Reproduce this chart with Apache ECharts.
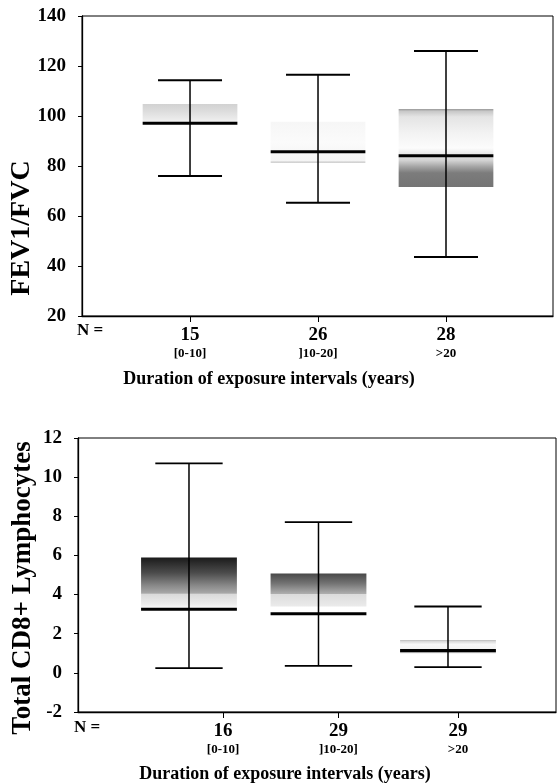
<!DOCTYPE html>
<html>
<head>
<meta charset="utf-8">
<script src="https://cdn.jsdelivr.net/npm/echarts@6/dist/echarts.min.js"></script>
<style>
  html, body { margin: 0; padding: 0; background: #fff; }
  #chart { width: 557px; height: 784px; }
</style>
</head>
<body>
<div id="chart"></div>
<script>
// categories (exposure duration intervals)
const categories = ['[0-10]', ']10-20]', '>20'];

// FEV1/FVC box plot
const fevN = [15, 26, 28];
const fevMin = [76, 65.3, 43.6];
const fevQ1 = [97, 81.3, 71.6];
const fevMed = [97.1, 85.7, 84.1];
const fevQ3 = [104.8, 97.7, 102.8];
const fevMax = [114.3, 116.5, 126];

// Total CD8+ lymphocytes box plot
const cd8N = [16, 29, 29];
const cd8Min = [0.24, 0.36, 0.29];
const cd8Q1 = [3.25, 3.02, 1.0];
const cd8Med = [3.25, 3.02, 1.14];
const cd8Q3 = [5.9, 5.08, 1.65];
const cd8Max = [10.7, 7.7, 3.39];

const fevTicks = [20, 40, 60, 80, 100, 120, 140];
const cd8Ticks = [-2, 0, 2, 4, 6, 8, 10, 12];

const FONT = "'Liberation Serif', 'DejaVu Serif', serif";

// grey shading of each box, top -> bottom
const fevFills = [
  [[0, '#d2d2d2'], [0.35, '#dcdcdc'], [0.8, '#ececec'], [1, '#f6f6f6']],
  [[0, '#f6f6f6'], [0.5, '#fbfbfb'], [0.95, '#f4f4f4'], [1, '#bdbdbd']],
  [[0, '#999999'], [0.03, '#c8c8c8'], [0.1, '#e4e4e4'], [0.3, '#f2f2f2'], [0.5, '#fcfcfc'],
   [0.66, '#d2d2d2'], [0.74, '#a4a4a4'], [0.82, '#7c7c7c'], [1, '#747474']]
];
const cd8Fills = [
  [[0, '#1a1a1a'], [0.3, '#4c4c4c'], [0.55, '#8a8a8a'], [0.69, '#a8a8a8'], [0.71, '#dadada'],
   [0.9, '#ececec'], [1, '#ffffff']],
  [[0, '#484848'], [0.25, '#747474'], [0.5, '#adadad'], [0.52, '#dcdcdc'], [0.8, '#eaeaea'],
   [0.84, '#ffffff'], [1, '#ffffff']],
  [[0, '#8a8a8a'], [0.06, '#d8d8d8'], [0.3, '#f8f8f8'], [0.7, '#f2f2f2'], [1, '#d4d4d4']]
];

function rows(mins, q1s, meds, q3s, maxs) {
  return mins.map((m, i) => [i + 1, m, q1s[i], meds[i], q3s[i], maxs[i]]);
}

function boxRenderer(fills, boxHalf, capHalf) {
  return function (params, api) {
    const x = api.value(0);
    const pMin = api.coord([x, api.value(1)]);
    const pQ1 = api.coord([x, api.value(2)]);
    const pMed = api.coord([x, api.value(3)]);
    const pQ3 = api.coord([x, api.value(4)]);
    const pMax = api.coord([x, api.value(5)]);
    const bw = api.size([boxHalf, 0])[0];
    const cw = api.size([capHalf, 0])[0];
    const cx = pMed[0];
    const stops = fills[params.dataIndex].map(s => ({ offset: s[0], color: s[1] }));
    return {
      type: 'group',
      children: [
        {
          type: 'rect',
          shape: { x: cx - bw, y: pQ3[1], width: bw * 2, height: pQ1[1] - pQ3[1] },
          style: { fill: { type: 'linear', x: 0, y: 0, x2: 0, y2: 1, colorStops: stops } }
        },
        {
          type: 'line',
          shape: { x1: cx, y1: pMax[1], x2: cx, y2: pMin[1] },
          style: { stroke: '#000', lineWidth: 1.5 }
        },
        {
          type: 'line',
          shape: { x1: cx - cw, y1: pMax[1], x2: cx + cw, y2: pMax[1] },
          style: { stroke: '#000', lineWidth: 1.8 }
        },
        {
          type: 'line',
          shape: { x1: cx - cw, y1: pMin[1], x2: cx + cw, y2: pMin[1] },
          style: { stroke: '#000', lineWidth: 1.8 }
        },
        {
          type: 'line',
          shape: { x1: cx - bw, y1: pMed[1], x2: cx + bw, y2: pMed[1] },
          style: { stroke: '#000', lineWidth: 3.2 }
        }
      ]
    };
  };
}

function yAxis(gridIndex, min, max, interval) {
  return {
    gridIndex: gridIndex, type: 'value', min: min, max: max, interval: interval,
    splitLine: { show: false },
    axisLine: { show: true, lineStyle: { color: '#000', width: 1.3 } },
    axisTick: { show: true, length: 4, lineStyle: { color: '#000' } },
    axisLabel: { color: '#000', fontFamily: FONT, fontWeight: 'bold', fontSize: 19, margin: 16 }
  };
}

function xAxis(gridIndex, min, max, tickVals, nums) {
  return {
    gridIndex: gridIndex, type: 'value', min: min, max: max,
    splitLine: { show: false },
    axisLine: { show: true, onZero: false, lineStyle: { color: '#000', width: 1.3 } },
    axisTick: { show: true, length: 6, customValues: tickVals, lineStyle: { color: '#000' } },
    axisLabel: {
      customValues: tickVals,
      margin: 10,
      formatter: function (v) {
        const i = tickVals.findIndex(t => Math.abs(t - v) < 1e-6);
        return i < 0 ? '' : '{n|' + nums[i] + '}\n{r|' + categories[i] + '}';
      },
      rich: {
        n: { fontFamily: FONT, fontWeight: 'bold', fontSize: 19, lineHeight: 19, color: '#000' },
        r: { fontFamily: FONT, fontWeight: 'bold', fontSize: 13, lineHeight: 17, color: '#000' }
      }
    }
  };
}

const chart = echarts.init(document.getElementById('chart'), null, { renderer: 'canvas' });

chart.setOption({
  backgroundColor: '#fff',
  animation: false,
  grid: [
    { left: 82, top: 16, right: 4, bottom: 468, show: true, borderColor: '#000', borderWidth: 1 },
    { left: 78, top: 438, right: 1, bottom: 72, show: true, borderColor: '#000', borderWidth: 1 }
  ],
  xAxis: [
    xAxis(0, 0.156, 3.836, [1, 2, 3], fevN),
    xAxis(1, 0.143, 3.834, [1.263, 2.154, 3.077], cd8N)
  ],
  yAxis: [
    yAxis(0, fevTicks[0], fevTicks[fevTicks.length - 1], 20),
    yAxis(1, cd8Ticks[0], cd8Ticks[cd8Ticks.length - 1], 2)
  ],
  series: [
    {
      type: 'custom', xAxisIndex: 0, yAxisIndex: 0,
      renderItem: boxRenderer(fevFills, 0.37, 0.25),
      data: rows(fevMin, fevQ1, fevMed, fevQ3, fevMax)
    },
    {
      type: 'custom', xAxisIndex: 1, yAxisIndex: 1,
      renderItem: boxRenderer(cd8Fills, 0.37, 0.26),
      data: rows(cd8Min, cd8Q1, cd8Med, cd8Q3, cd8Max)
    }
  ],
  graphic: [
    { type: 'text', x: 22, y: 228, rotation: Math.PI / 2,
      style: { text: 'FEV1/FVC', font: 'bold 28px ' + FONT, fill: '#000', align: 'center', verticalAlign: 'middle' } },
    { type: 'text', x: 23, y: 588, rotation: Math.PI / 2,
      style: { text: 'Total CD8+ Lymphocytes', font: 'bold 27px ' + FONT, fill: '#000', align: 'center', verticalAlign: 'middle' } },
    { type: 'text', x: 77, y: 331,
      style: { text: 'N =', font: 'bold 17px ' + FONT, fill: '#000', align: 'left', verticalAlign: 'middle' } },
    { type: 'text', x: 74, y: 728,
      style: { text: 'N =', font: 'bold 17px ' + FONT, fill: '#000', align: 'left', verticalAlign: 'middle' } },
    { type: 'text', x: 269, y: 379,
      style: { text: 'Duration of exposure intervals (years)', font: 'bold 18px ' + FONT, fill: '#000', align: 'center', verticalAlign: 'middle' } },
    { type: 'text', x: 285, y: 774,
      style: { text: 'Duration of exposure intervals (years)', font: 'bold 18px ' + FONT, fill: '#000', align: 'center', verticalAlign: 'middle' } }
  ]
});
</script>
</body>
</html>
